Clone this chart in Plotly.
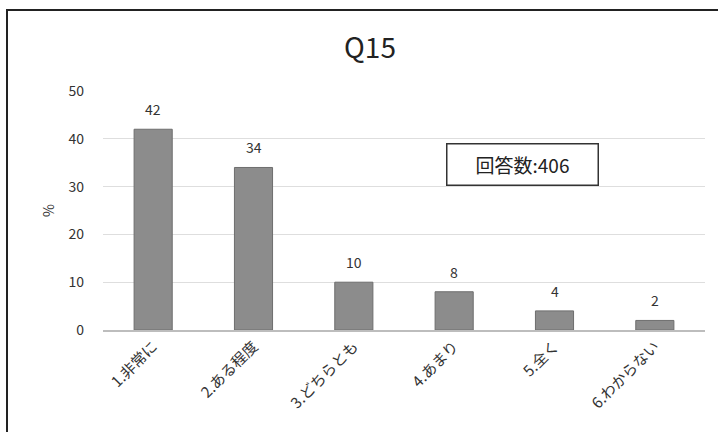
import plotly.graph_objects as go

categories = ["1.非常に", "2.ある程度", "3.どちらとも", "4.あまり", "5.全く", "6.わからない"]
values = [42, 34, 10, 8, 4, 2]
title_text = "Q15"
respondents = "回答数:406"

W, H = 718, 432
ml, mr, mt, mb = 103, 13, 91, 102
pw, ph = W - ml - mr, H - mt - mb

def px_to_paper_x(px):
    return (px - ml) / pw

def px_to_paper_y(py):
    return 1 - (py - mt) / ph

font_family = "Noto Sans CJK JP, Noto Sans, sans-serif"

fig = go.Figure(
    go.Bar(
        x=categories,
        y=values,
        cliponaxis=False,
        marker=dict(color="#8c8c8c", line=dict(color="#6e6e6e", width=1)),
    )
)

# value labels above each bar
for cat, val in zip(categories, values):
    fig.add_annotation(
        x=cat,
        y=val,
        text=str(val),
        showarrow=False,
        yanchor="bottom",
        yshift=8,
        font=dict(size=14, color="#333333"),
    )

fig.update_layout(
    width=W,
    height=H,
    margin=dict(l=ml, r=mr, t=mt, b=mb),
    paper_bgcolor="white",
    plot_bgcolor="white",
    bargap=0.62,
    showlegend=False,
    font=dict(family=font_family, color="#333333"),
    title=dict(
        text=title_text,
        x=370 / W,
        xanchor="center",
        y=1 - 48 / H,
        yanchor="middle",
        font=dict(size=28, color="#222222"),
    ),
)

fig.update_xaxes(
    tickangle=-45,
    tickfont=dict(size=15, color="#333333"),
    showline=True,
    linecolor="#bdbdbd",
    linewidth=1.5,
    ticks="",
)
fig.update_yaxes(
    range=[0, 50],
    dtick=10,
    showgrid=True,
    gridcolor="#dedede",
    gridwidth=1,
    zeroline=False,
    tickfont=dict(size=14, color="#333333"),
    ticks="",
    ticklabelstandoff=18,
    title=dict(text="%", font=dict(size=14, color="#333333"), standoff=10),
)

# outer chart frame
fig.add_shape(
    type="rect",
    xref="paper",
    yref="paper",
    x0=px_to_paper_x(7),
    x1=px_to_paper_x(W + 5),
    y0=px_to_paper_y(H + 5),
    y1=px_to_paper_y(10),
    line=dict(color="#222222", width=2),
    fillcolor="rgba(0,0,0,0)",
    layer="above",
)

# respondent count box
fig.add_annotation(
    xref="paper",
    yref="paper",
    x=px_to_paper_x(522),
    y=px_to_paper_y(164),
    xanchor="center",
    yanchor="middle",
    text=respondents,
    showarrow=False,
    font=dict(size=19, color="#222222"),
    width=140,
    height=30,
    align="center",
    bordercolor="#333333",
    borderwidth=1.5,
    borderpad=5,
    bgcolor="white",
)

fig.write_html("out.html")
